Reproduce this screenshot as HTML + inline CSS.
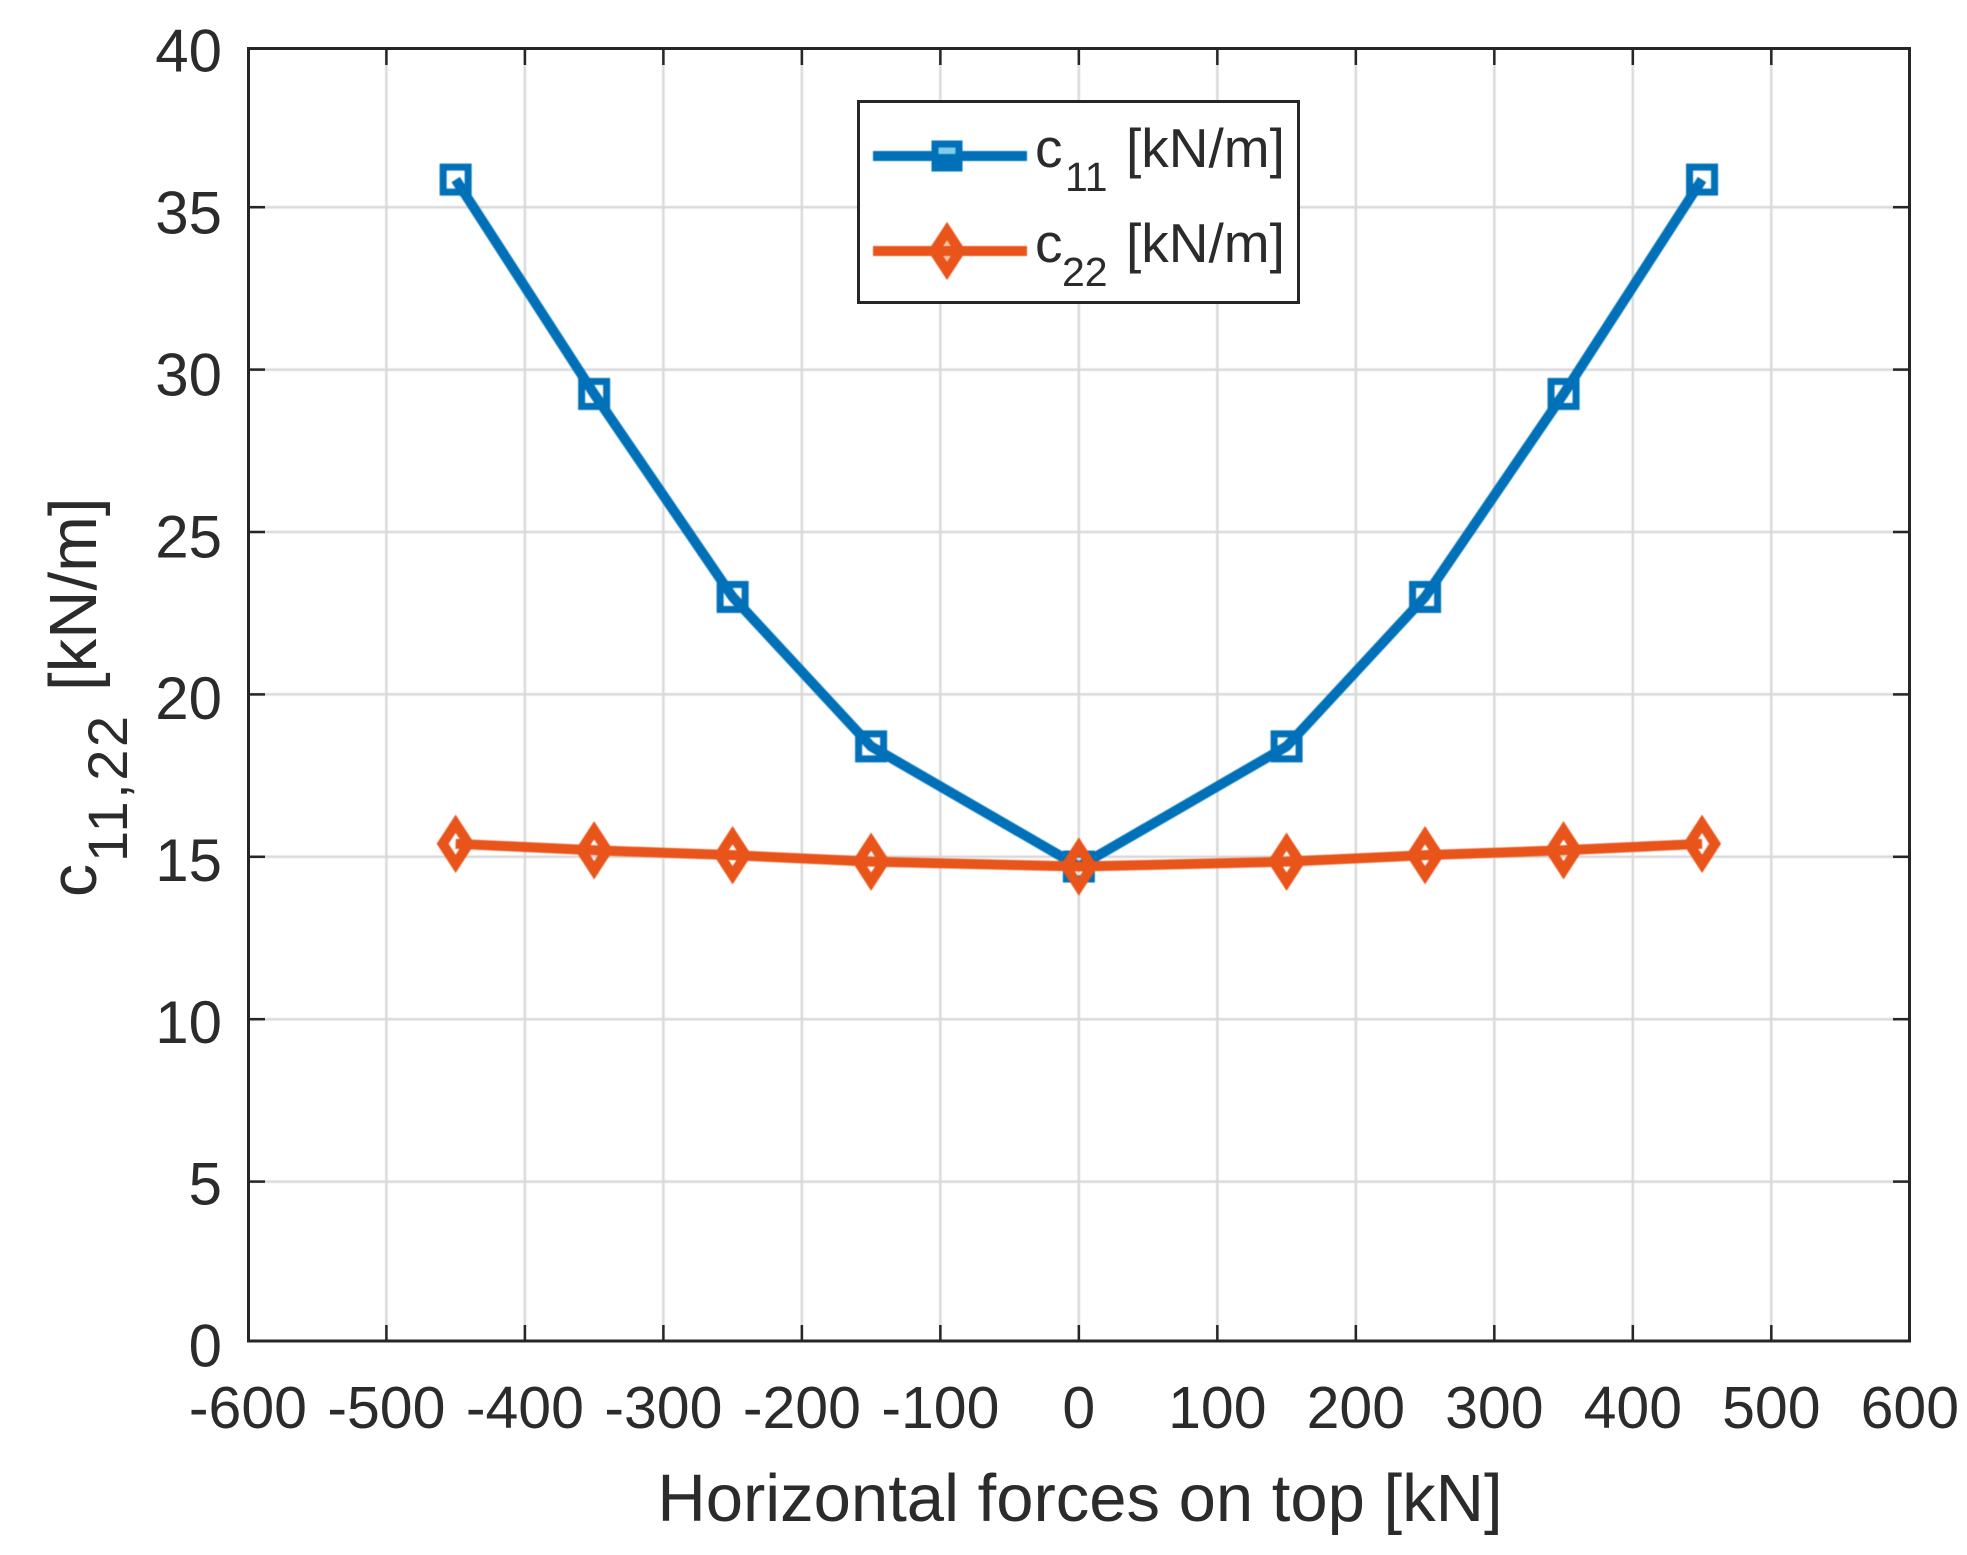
<!DOCTYPE html>
<html lang="en">
<head>
<meta charset="utf-8">
<title>Stiffness chart</title>
<style>
html,body{margin:0;padding:0;background:#fff;width:1967px;height:1555px;overflow:hidden}
svg{display:block;font-family:"Liberation Sans",Arial,sans-serif;fill:#2b2b2b}
</style>
</head>
<body>
<svg id="chart" width="1967" height="1555" viewBox="0 0 1967 1555" xmlns="http://www.w3.org/2000/svg">
<g id="grid" style="filter:blur(.5px)"></g>
<g id="ticks"></g>
<rect x="248.5" y="48.5" width="1661" height="1292.5" fill="none" stroke="#262626" stroke-width="3"/>
<g id="xlabels" font-size="59" text-anchor="middle"></g>
<g id="ylabels" font-size="60" text-anchor="end"></g>
<g id="series" style="filter:blur(.6px)"></g>
<g>
<rect x="858.5" y="101.5" width="440" height="201" fill="#fff" stroke="#262626" stroke-width="3"/>
<g style="filter:blur(.6px)">
<line x1="873" y1="156" x2="1027" y2="156" stroke="#0071b8" stroke-width="10"/>
<rect x="935" y="144" width="24" height="24" fill="#7fcdea" stroke="#0071b8" stroke-width="7"/>
<line x1="935" y1="160.5" x2="959" y2="160.5" stroke="#0071b8" stroke-width="13"/>
<line x1="873" y1="251" x2="1027" y2="251" stroke="#e8541a" stroke-width="10"/>
<path d="M947 231 L960 251 L947 271 L934 251 Z" fill="#f9c8a8" stroke="#e8541a" stroke-width="10" stroke-linejoin="miter" stroke-miterlimit="6"/>
<line x1="934" y1="251" x2="960" y2="251" stroke="#e8541a" stroke-width="10"/>
</g>
<text x="1035" y="167" font-size="55">c</text>
<text x="1065" y="191" font-size="41">11</text>
<text x="1126" y="167" font-size="55">[kN/m]</text>
<text x="1035" y="262" font-size="55">c</text>
<text x="1062" y="286" font-size="41">22</text>
<text x="1126" y="262" font-size="55">[kN/m]</text>
</g>
<text x="1080" y="1521" font-size="67" text-anchor="middle">Horizontal forces on top [kN]</text>
<g transform="translate(96,897) rotate(-90)">
<text x="0" y="0" font-size="66">c</text>
<text x="35" y="31" font-size="56" letter-spacing="2.5">11,22</text>
<text x="206" y="0" font-size="67">[kN/m]</text>
</g>
</svg>
<script>
const xTicks = [-600,-500,-400,-300,-200,-100,0,100,200,300,400,500,600];
const yTicks = [0,5,10,15,20,25,30,35,40];
const forces = [-450,-350,-250,-150,0,150,250,350,450];
const c11 = [35.85,29.25,23.0,18.4,14.7,18.4,23.0,29.25,35.85];
const c22 = [15.4,15.2,15.05,14.85,14.7,14.85,15.05,15.2,15.4];

const NS = 'http://www.w3.org/2000/svg';
function xScale(v){ return 1078.85 + 1.3849 * v; }
function yScale(v){ return 1344 - 32.48 * v; }
function yLabelBaseline(v){ return 1366.5 - 32.37 * v; }
function make(tag, attrs, parent){
  const el = document.createElementNS(NS, tag);
  for (const k in attrs) el.setAttribute(k, attrs[k]);
  parent.appendChild(el);
  return el;
}
const grid = document.getElementById('grid');
const ticks = document.getElementById('ticks');
const xlabels = document.getElementById('xlabels');
const ylabels = document.getElementById('ylabels');
const series = document.getElementById('series');

xTicks.forEach(function(t){
  const x = xScale(t);
  if (t !== -600 && t !== 600) {
    const g = make('line', {x1:x, y1:50, x2:x, y2:1340, stroke:'#d9d9d9', 'stroke-width':2.5}, grid);
    
    
    const a = make('line', {x1:x, y1:50, x2:x, y2:65, stroke:'#262626', 'stroke-width':2.5}, ticks);
    
    
    const b = make('line', {x1:x, y1:1325, x2:x, y2:1340, stroke:'#262626', 'stroke-width':2.5}, ticks);
    
    
  }
  const l = make('text', {x:x, y:1428}, xlabels);
  
  
  l.textContent = String(t);
});
yTicks.forEach(function(t){
  const y = yScale(t);
  if (t !== 0 && t !== 40) {
    const g = make('line', {x1:250, y1:y, x2:1908, y2:y, stroke:'#d9d9d9', 'stroke-width':2.5}, grid);
    
    
    const a = make('line', {x1:250, y1:y, x2:265, y2:y, stroke:'#262626', 'stroke-width':2.5}, ticks);
    
    
    const b = make('line', {x1:1893, y1:y, x2:1908, y2:y, stroke:'#262626', 'stroke-width':2.5}, ticks);
    
    
  }
  const l = make('text', {x:222, y:yLabelBaseline(t)}, ylabels);
  
  
  l.textContent = String(t);
});

function points(values){
  return values.map(function(v, i){ return xScale(forces[i]) + ',' + yScale(v); }).join(' ');
}
const lineC11 = make('polyline', {points:points(c11), fill:'none', stroke:'#0071b8', 'stroke-width':10, 'stroke-linejoin':'round'}, series);


c11.forEach(function(v, i){
  const x = xScale(forces[i]), y = yScale(v);
  const m = make('rect', {x:x-12.5, y:y-12.5, width:25, height:25, fill:'none', stroke:'#0071b8', 'stroke-width':7}, series);
  
  
});
const lineC22 = make('polyline', {points:points(c22), fill:'none', stroke:'#e8541a', 'stroke-width':10, 'stroke-linejoin':'round'}, series);


c22.forEach(function(v, i){
  const x = xScale(forces[i]), y = yScale(v);
  const d = 'M' + x + ' ' + (y-20) + ' L' + (x+13) + ' ' + y + ' L' + x + ' ' + (y+20) + ' L' + (x-13) + ' ' + y + ' Z';
  const m = make('path', {d:d, fill:'none', stroke:'#e8541a', 'stroke-width':10, 'stroke-linejoin':'miter', 'stroke-miterlimit':6}, series);
  
  
});
</script>
</body>
</html>
